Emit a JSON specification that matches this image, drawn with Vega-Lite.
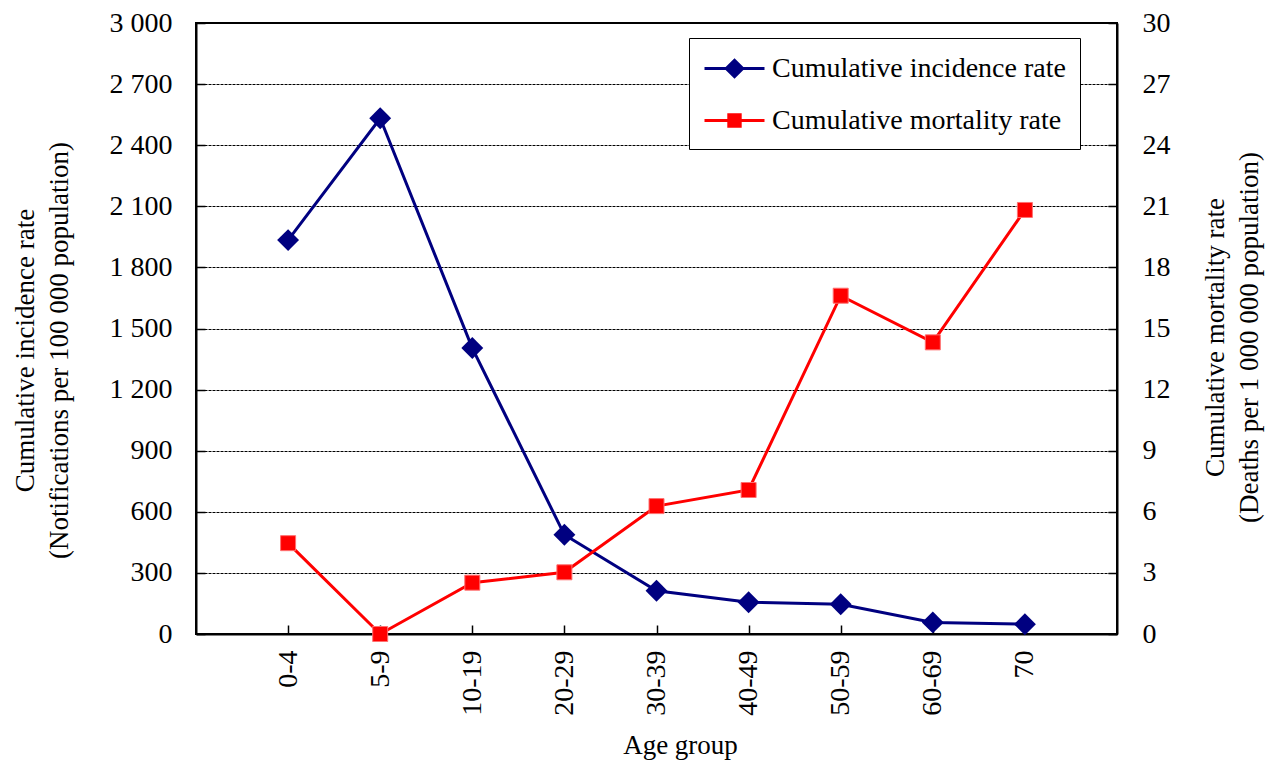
{
  "$schema": "https://vega.github.io/schema/vega-lite/v6.json",
  "description": "Cumulative incidence and mortality rate by age group, dual axis",
  "autosize": "none",
  "width": 921,
  "height": 611,
  "padding": {"left": 196, "top": 23, "right": 151, "bottom": 126},
  "background": "white",
  "data": {
    "values": [
      {"age": "0-4", "incidence": 1934, "mortality": 4.46},
      {"age": "5-9", "incidence": 2532, "mortality": 0},
      {"age": "10-19", "incidence": 1404, "mortality": 2.52},
      {"age": "20-29", "incidence": 487, "mortality": 3.03},
      {"age": "30-39", "incidence": 212, "mortality": 6.28},
      {"age": "40-49", "incidence": 156, "mortality": 7.07},
      {"age": "50-59", "incidence": 146, "mortality": 16.61},
      {"age": "60-69", "incidence": 57, "mortality": 14.32},
      {"age": "70", "incidence": 48, "mortality": 20.82}
    ]
  },
  "encoding": {
    "x": {
      "field": "age",
      "type": "ordinal",
      "sort": null,
      "scale": {"type": "point", "padding": 1},
      "axis": {
        "title": "Age group",
        "titleFont": "Liberation Serif",
        "titleX": 484,
        "titleY": 119,
        "titleBaseline": "alphabetic",
        "labelAngle": -90,
        "labelAlign": "right",
        "labelBaseline": "middle",
        "labelPadding": 25,
        "tickSize": -9,
        "grid": false
      }
    }
  },
  "layer": [
    {
      "encoding": {
        "y": {
          "field": "incidence",
          "type": "quantitative",
          "scale": {"domain": [0, 3000], "nice": false},
          "axis": {
            "orient": "left",
            "values": [0, 300, 600, 900, 1200, 1500, 1800, 2100, 2400, 2700, 3000],
            "labelExpr": "replace(format(datum.value, ','), ',', ' ')",
            "labelPadding": 33,
            "tickSize": -9,
            "grid": true,
            "gridColor": "black",
            "gridDash": [3, 1],
            "gridWidth": 1,
            "title": ["Cumulative incidence rate", "(Notifications per 100 000 population)"],
            "titleFont": "Liberation Serif",
            "titleAngle": -90,
            "titleX": -163,
            "titleY": 327,
            "titleAlign": "center",
            "titleBaseline": "alphabetic",
            "titleLineHeight": 34
          }
        },
        "color": {
          "datum": "Cumulative incidence rate",
          "scale": {
            "domain": ["Cumulative incidence rate", "Cumulative mortality rate"],
            "range": ["#000080", "#ff0000"]
          },
          "legend": {
            "title": null,
            "orient": "none",
            "legendX": 493,
            "legendY": 15,
            "padding": 14,
            "strokeColor": "black",
            "fillColor": "white",
            "symbolSize": 900,
            "symbolStrokeWidth": 3,
            "labelFontSize": 28,
            "labelOffset": 36,
            "labelLimit": 0,
            "rowPadding": 21,
            "encode": {
              "symbols": {
                "update": {
                  "shape": {"signal": "datum.value === 'Cumulative incidence rate' ? 'M-1,0L3,0M1,-0.55L1.55,0L1,0.55L0.45,0Z' : 'M-1,0L3,0M0.62,-0.38L1.38,-0.38L1.38,0.38L0.62,0.38Z'"},
                  "fill": {"signal": "datum.value === 'Cumulative incidence rate' ? '#000080' : '#ff0000'"},
                  "stroke": {"signal": "datum.value === 'Cumulative incidence rate' ? '#000080' : '#ff0000'"},
                  "strokeWidth": {"value": 3},
                  "size": {"value": 900},
                  "opacity": {"value": 1},
                  "fillOpacity": {"value": 1},
                  "strokeOpacity": {"value": 1}
                }
              }
            }
          }
        }
      },
      "layer": [
        {"mark": {"type": "line", "strokeWidth": 3}},
        {"mark": {"type": "point", "shape": "diamond", "filled": true, "size": 480, "opacity": 1}}
      ]
    },
    {
      "encoding": {
        "y": {
          "field": "mortality",
          "type": "quantitative",
          "scale": {"domain": [0, 30], "nice": false},
          "axis": {
            "orient": "right",
            "values": [0, 3, 6, 9, 12, 15, 18, 21, 24, 27, 30],
            "labelPadding": 34,
            "tickSize": -9,
            "grid": false,
            "title": ["Cumulative mortality rate", "(Deaths per 1 000 000 population)"],
            "titleFont": "Liberation Serif",
            "titleAngle": -90,
            "titleX": 106,
            "titleY": 314,
            "titleAlign": "center",
            "titleBaseline": "alphabetic",
            "titleLineHeight": 34
          }
        },
        "color": {"datum": "Cumulative mortality rate"}
      },
      "layer": [
        {"mark": {"type": "line", "strokeWidth": 3}},
        {"mark": {"type": "point", "shape": "square", "filled": true, "size": 225, "opacity": 1, "stroke": "#ff7070", "strokeWidth": 1}}
      ]
    }
  ],
  "resolve": {"scale": {"y": "independent"}},
  "config": {
    "font": "Liberation Serif",
    "view": {"stroke": "black", "strokeWidth": 2},
    "axis": {
      "labelFont": "Liberation Serif",
      "labelFontSize": 28,
      "labelColor": "black",
      "titleFont": "Liberation Serif",
      "titleFontSize": 27,
      "titleFontWeight": "normal",
      "titleColor": "black",
      "domainColor": "black",
      "domainWidth": 2,
      "tickColor": "black",
      "tickWidth": 1.5
    },
    "legend": {
      "labelFont": "Liberation Serif",
      "labelColor": "black"
    }
  }
}
